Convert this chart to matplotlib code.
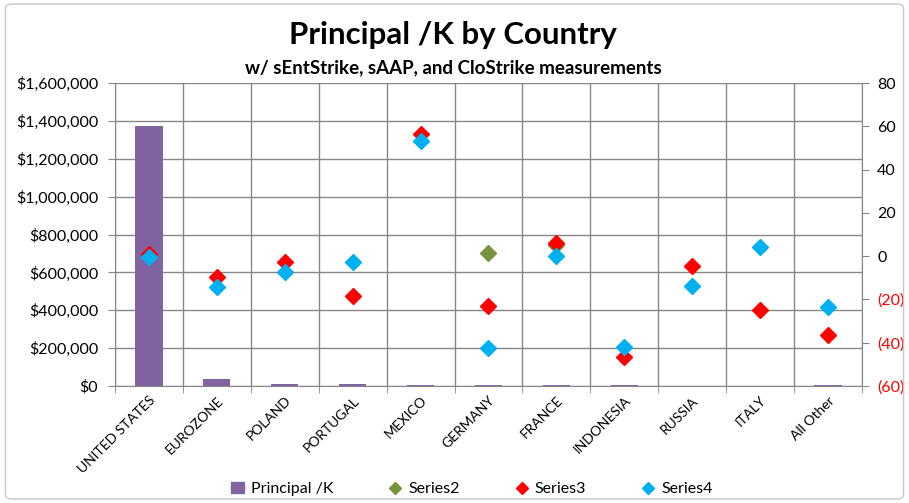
import numpy as np
import matplotlib
matplotlib.use("Agg")
import matplotlib.pyplot as plt
from matplotlib.ticker import FuncFormatter, MultipleLocator, FixedLocator
from matplotlib.patches import FancyBboxPatch
from matplotlib.lines import Line2D
from matplotlib.patches import Patch

plt.rcParams['font.family'] = ['Lato', 'DejaVu Sans']

categories = ["UNITED STATES", "EUROZONE", "POLAND", "PORTUGAL", "MEXICO", "GERMANY",
              "FRANCE", "INDONESIA", "RUSSIA", "ITALY", "All Other"]
principal = [1372000, 35000, 12000, 10000, 4000, 4000, 3000, 3000, 2500, 1500, 5000]
series2 = [np.nan, np.nan, np.nan, np.nan, np.nan, 1.5, 5.0, np.nan, np.nan, np.nan, np.nan]
series3 = [1.2, -9.5, -2.9, -18.2, 56.4, -23.0, 6.2, -46.5, -4.5, -25.0, -36.5]
series4 = [-0.5, -14.2, -7.5, -2.8, 53.1, -42.5, 0.1, -42.2, -13.9, 4.3, -23.7]

purple = "#8064A2"
green = "#77933C"
red = "#FF0000"
blue = "#00B0F0"
gridc = "#878787"

fig = plt.figure(figsize=(9.09, 5.03), dpi=100)
fig.patches.append(FancyBboxPatch((0.006, 0.008), 0.988, 0.984, boxstyle="round,pad=0,rounding_size=0.008",
                                  transform=fig.transFigure, fill=False, ec="#C8C8C8", lw=1.0))

ax = fig.add_axes([115/909, 1 - 386/503, (862 - 115)/909, (386 - 83)/503])
x = np.arange(len(categories))
ax.bar(x, principal, width=0.4, color=purple, zorder=2)
ax.set_xlim(-0.5, len(categories) - 0.5)
ax.set_ylim(0, 1600000)
ax.yaxis.set_major_locator(MultipleLocator(200000))
ax.yaxis.set_major_formatter(FuncFormatter(lambda v, p: "${:,.0f}".format(v)))
ax.set_xticks(x)
ax.set_xticklabels(categories, rotation=45, ha="right", rotation_mode="anchor", fontsize=10)
ax.tick_params(axis="x", which="major", length=0, pad=6)
ax.xaxis.set_minor_locator(FixedLocator(np.arange(-0.5, len(categories), 1.0)))
ax.tick_params(axis="x", which="minor", length=5, color=gridc)
ax.tick_params(axis="y", length=5, color=gridc, labelsize=11.5, pad=7)
ax.grid(True, axis="y", which="major", color=gridc, lw=1.0, zorder=0)
ax.grid(True, axis="x", which="minor", color=gridc, lw=1.0, zorder=0)
ax.set_axisbelow(True)
for s in ["top", "right"]:
    ax.spines[s].set_visible(False)
ax.spines["left"].set_color(gridc)
ax.spines["bottom"].set_color(gridc)

ax2 = ax.twinx()
ax2.set_ylim(-60, 80)
ax2.yaxis.set_major_locator(MultipleLocator(20))
ax2.yaxis.set_major_formatter(FuncFormatter(lambda v, p: "({:.0f})".format(-v) if v < 0 else "{:.0f}".format(v)))
ax2.tick_params(axis="y", length=5, color=gridc, labelsize=11.5, pad=6)
for s in ["top", "left", "bottom"]:
    ax2.spines[s].set_visible(False)
ax2.spines["right"].set_color(gridc)
ms = 8
ax2.plot(x, series2, linestyle="none", marker="D", ms=ms, color=green, zorder=3)
ax2.plot(x, series3, linestyle="none", marker="D", ms=ms, color=red, zorder=4)
ax2.plot(x, series4, linestyle="none", marker="D", ms=ms, color=blue, zorder=5)
fig.canvas.draw()
for t in ax2.get_yticklabels():
    if t.get_text().startswith("("):
        t.set_color(red)

fig.text(453/909, 1 - 35/503, "Principal /K by Country", ha="center", va="center", fontsize=22.5, fontweight="bold")
fig.text(453/909, 1 - 68/503, "w/ sEntStrike, sAAP, and CloStrike measurements", ha="center", va="center",
         fontsize=13.5, fontweight="bold")

handles = [Patch(color=purple),
           Line2D([], [], linestyle="none", marker="D", ms=6, color=green),
           Line2D([], [], linestyle="none", marker="D", ms=6, color=red),
           Line2D([], [], linestyle="none", marker="D", ms=6, color=blue)]
labels = ["Principal /K", "Series2", "Series3", "Series4"]
fig.legend(handles, labels, loc="center", bbox_to_anchor=(472/909, 1 - 489/503), ncol=4, frameon=False,
           fontsize=11.5, columnspacing=3.5, handlelength=0.8, handletextpad=0.4)

fig.savefig("out.png", dpi=100)
